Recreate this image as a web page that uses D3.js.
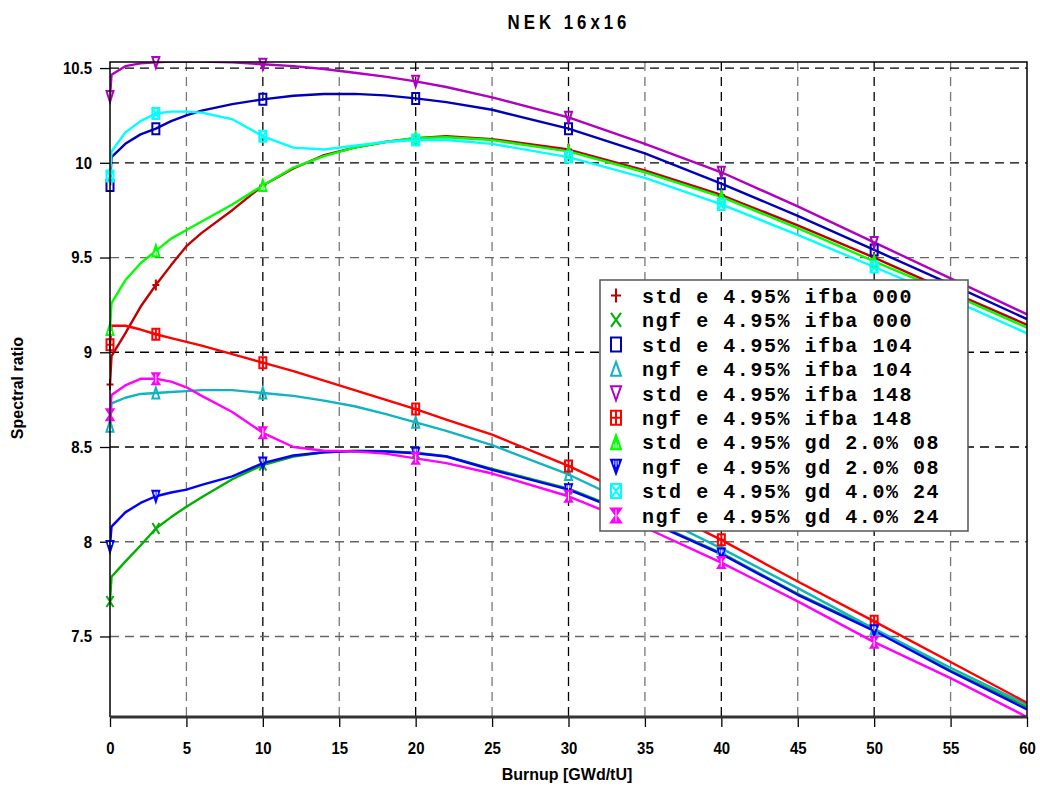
<!DOCTYPE html>
<html>
<head>
<meta charset="utf-8">
<script src="https://cdn.jsdelivr.net/npm/d3@7"></script>
<style>
  body { margin: 0; background: #fff; }
  svg { display: block; }
  .narrow { font-family: "Liberation Sans Narrow", "Arial Narrow", "Liberation Sans", sans-serif; font-weight: bold; }
</style>
</head>
<body>
<svg width="1040" height="788"></svg>
<script>
// burnup steps and the points that carry a marker
const burnup = [0, 0.1, 1, 2, 3, 4, 5, 6, 8, 10, 12, 14, 16, 18, 20, 22, 25, 30, 35, 40, 45, 50, 55, 60];
const markerBurnup = [0, 3, 10, 20, 30, 40, 50];
const xTicks = [0, 5, 10, 15, 20, 25, 30, 35, 40, 45, 50, 55, 60];
const yTicks = [7.5, 8, 8.5, 9, 9.5, 10, 10.5];

// spectral ratio per case
const stdIfba000 = [8.83, 8.98, 9.10, 9.24, 9.355, 9.46, 9.56, 9.63, 9.75, 9.88, 9.97, 10.04, 10.08, 10.11, 10.13, 10.14, 10.125, 10.07, 9.96, 9.83, 9.67, 9.50, 9.32, 9.145];
const ngfIfba000 = [7.685, 7.815, 7.895, 7.98, 8.07, 8.13, 8.185, 8.235, 8.33, 8.405, 8.45, 8.472, 8.48, 8.478, 8.47, 8.452, 8.385, 8.28, 8.12, 7.94, 7.725, 7.535, 7.32, 7.128];
const stdIfba104 = [9.88, 10.03, 10.10, 10.15, 10.18, 10.22, 10.25, 10.275, 10.31, 10.335, 10.354, 10.363, 10.364, 10.356, 10.34, 10.32, 10.28, 10.18, 10.05, 9.89, 9.72, 9.54, 9.36, 9.175];
const ngfIfba104 = [8.61, 8.73, 8.76, 8.78, 8.785, 8.79, 8.795, 8.80, 8.80, 8.785, 8.77, 8.745, 8.715, 8.675, 8.63, 8.585, 8.51, 8.355, 8.165, 7.965, 7.755, 7.54, 7.335, 7.14];
const stdIfba148 = [10.35, 10.465, 10.51, 10.525, 10.53, 10.535, 10.535, 10.535, 10.53, 10.52, 10.51, 10.495, 10.475, 10.455, 10.43, 10.40, 10.345, 10.24, 10.10, 9.95, 9.77, 9.58, 9.39, 9.20];
const ngfIfba148 = [9.04, 9.14, 9.14, 9.12, 9.095, 9.075, 9.055, 9.035, 8.99, 8.945, 8.90, 8.85, 8.80, 8.75, 8.70, 8.645, 8.565, 8.40, 8.21, 8.01, 7.79, 7.58, 7.365, 7.15];
const stdGd08 = [9.12, 9.26, 9.38, 9.47, 9.535, 9.60, 9.645, 9.69, 9.78, 9.88, 9.975, 10.035, 10.08, 10.11, 10.13, 10.135, 10.12, 10.06, 9.95, 9.82, 9.655, 9.48, 9.31, 9.13];
const ngfGd08 = [7.975, 8.08, 8.155, 8.205, 8.24, 8.26, 8.275, 8.30, 8.345, 8.415, 8.455, 8.472, 8.478, 8.476, 8.467, 8.45, 8.38, 8.275, 8.115, 7.935, 7.72, 7.53, 7.315, 7.115];
const stdGd24 = [9.93, 10.06, 10.16, 10.22, 10.26, 10.27, 10.27, 10.265, 10.23, 10.14, 10.08, 10.07, 10.09, 10.11, 10.12, 10.12, 10.10, 10.03, 9.92, 9.78, 9.62, 9.45, 9.28, 9.10];
const ngfGd24 = [8.67, 8.775, 8.825, 8.86, 8.86, 8.845, 8.815, 8.77, 8.685, 8.575, 8.50, 8.48, 8.477, 8.465, 8.44, 8.415, 8.36, 8.24, 8.075, 7.89, 7.685, 7.47, 7.28, 7.075];

const seriesNames = ["std e 4.95% ifba 000", "ngf e 4.95% ifba 000", "std e 4.95% ifba 104", "ngf e 4.95% ifba 104",
  "std e 4.95% ifba 148", "ngf e 4.95% ifba 148", "std e 4.95% gd 2.0% 08", "ngf e 4.95% gd 2.0% 08",
  "std e 4.95% gd 4.0% 24", "ngf e 4.95% gd 4.0% 24"];
const seriesValues = [stdIfba000, ngfIfba000, stdIfba104, ngfIfba104, stdIfba148, ngfIfba148, stdGd08, ngfGd08, stdGd24, ngfGd24];
const seriesColors = ["#c00000", "#00b000", "#0000b8", "#10b4c0", "#b000c0", "#ff0000", "#00ff00", "#0000ff", "#00ffff", "#ff00ff"];
const seriesMarkers = ["plus", "x", "rect", "triUp", "triDown", "rectCross", "triUpFill", "triDownFill", "rectX", "hourglass"];

const svg = d3.select("svg");
const plotLeft = 110, plotRight = 1027, plotTop = 62, plotBottom = 717;

const x = d3.scaleLinear().domain([0, 60]).range([plotLeft, plotRight]);
const y = d3.scaleLinear().domain([7.075, 10.532]).range([plotBottom, plotTop]);

// title (squeezed a bit to look like a narrow face)
svg.append("text").attr("class", "narrow")
  .attr("transform", "translate(569,29) scale(0.8,1)")
  .attr("text-anchor", "middle")
  .style("font-size", "21px").style("letter-spacing", "5px")
  .text("NEK 16x16");

// grid
const grid = svg.append("g");
xTicks.filter(d => d > 0 && d < 60).forEach(d => {
  grid.append("line")
    .attr("x1", x(d)).attr("x2", x(d)).attr("y1", plotTop).attr("y2", plotBottom)
    .attr("stroke", d % 10 === 0 ? "#000" : "#777")
    .attr("stroke-width", 1.3)
    .attr("stroke-dasharray", "9,6");
});
yTicks.forEach(d => {
  grid.append("line")
    .attr("x1", plotLeft).attr("x2", plotRight).attr("y1", y(d)).attr("y2", y(d))
    .attr("stroke", [9.5, 8, 7.5].includes(d) ? "#666" : "#000")
    .attr("stroke-width", 1.3)
    .attr("stroke-dasharray", "9,6");
});

// axes
const xAxis = d3.axisBottom(x).tickValues(xTicks).tickSize(10).tickPadding(15).tickFormat(d3.format("d"));
const yAxis = d3.axisLeft(y).tickValues(yTicks).tickSize(10).tickPadding(8).tickFormat(d => String(d));
const gx = svg.append("g").attr("transform", `translate(0,${plotBottom})`).call(xAxis);
const gy = svg.append("g").attr("transform", `translate(${plotLeft},0)`).call(yAxis);
[gx, gy].forEach(g => {
  g.select(".domain").remove();
  g.selectAll(".tick line").attr("stroke", "#000").attr("stroke-width", 1.3);
  g.selectAll("text").attr("class", "narrow").attr("fill", "#000").style("font-size", "17px");
});
gx.selectAll("text").attr("transform", "scale(0.88,1)");
gy.selectAll("text").attr("x", 0).attr("transform", "translate(-18,0) scale(0.88,1)");

// clipped plot area
svg.append("clipPath").attr("id", "plotClip")
  .append("rect").attr("x", plotLeft).attr("y", plotTop).attr("width", plotRight - plotLeft).attr("height", plotBottom - plotTop);

const line = d3.line().x((d, i) => x(burnup[i])).y(d => y(d));

const plot = svg.append("g").attr("clip-path", "url(#plotClip)");
seriesValues.forEach((vals, k) => {
  plot.append("path")
    .attr("d", line(vals))
    .attr("fill", "none")
    .attr("stroke", seriesColors[k])
    .attr("stroke-width", 2.4)
    .attr("stroke-linejoin", "round");
});

// marker shapes
function drawMarker(g, type, cx, cy, w, h, color) {
  const l = cx - w / 2, r = cx + w / 2, t = cy - h / 2, b = cy + h / 2;
  const sw = 2;
  const p = (d, fill) => g.append("path").attr("d", d)
    .attr("fill", fill ? color : "none")
    .attr("stroke", color).attr("stroke-width", sw).attr("stroke-linejoin", "miter");
  const white = d => g.append("path").attr("d", d).attr("fill", "none").attr("stroke", "#fff").attr("stroke-width", 1);
  if (type === "plus") p(`M${cx},${t}V${b}M${l},${cy}H${r}`);
  if (type === "x") p(`M${l},${t}L${r},${b}M${r},${t}L${l},${b}`);
  if (type === "rect") p(`M${l},${t}H${r}V${b}H${l}Z`);
  if (type === "triUp") p(`M${cx},${t}L${r},${b}H${l}Z`);
  if (type === "triDown") p(`M${l},${t}H${r}L${cx},${b}Z`);
  if (type === "rectCross") p(`M${l},${t}H${r}V${b}H${l}ZM${cx},${t}V${b}M${l},${cy}H${r}`);
  if (type === "rectX") p(`M${l},${t}H${r}V${b}H${l}ZM${l},${t}L${r},${b}M${r},${t}L${l},${b}`);
  if (type === "triUpFill") {
    p(`M${cx},${t}L${r},${b}H${l}Z`, true);
    white(`M${cx},${cy}V${b - 1}M${cx - w * 0.22},${cy + h * 0.15}V${b - 1}M${cx + w * 0.22},${cy + h * 0.15}V${b - 1}`);
  }
  if (type === "triDownFill") {
    p(`M${l},${t}H${r}L${cx},${b}Z`, true);
    white(`M${cx},${t + 1}V${cy}M${cx - w * 0.22},${t + 1}V${cy - h * 0.15}M${cx + w * 0.22},${t + 1}V${cy - h * 0.15}`);
  }
  if (type === "hourglass") {
    p(`M${l},${t}H${r}L${l},${b}H${r}Z`, true);
    white(`M${cx},${t + 1}V${b - 1}`);
  }
}

const markers = svg.append("g");
seriesValues.forEach((vals, k) => {
  markerBurnup.forEach(bu => {
    const i = burnup.indexOf(bu);
    drawMarker(markers, seriesMarkers[k], x(bu), y(vals[i]), 7, 11, seriesColors[k]);
  });
});

// frame
svg.append("path").attr("d", `M${plotLeft},${plotBottom}V${plotTop}H${plotRight}V${plotBottom}`)
  .attr("fill", "none").attr("stroke", "#000").attr("stroke-width", 1.5);
svg.append("line").attr("x1", plotLeft).attr("x2", plotRight).attr("y1", plotBottom).attr("y2", plotBottom)
  .attr("stroke", "#333").attr("stroke-width", 3);

// axis titles
svg.append("text").attr("class", "narrow")
  .attr("x", 567).attr("y", 780).attr("text-anchor", "middle")
  .style("font-size", "16px").text("Burnup [GWd/tU]");
svg.append("text").attr("class", "narrow")
  .attr("transform", "translate(23,388) rotate(-90)").attr("text-anchor", "middle")
  .style("font-size", "16px").text("Spectral ratio");

// legend
const lg = svg.append("g");
lg.append("rect").attr("x", 600).attr("y", 280).attr("width", 368).attr("height", 251)
  .attr("fill", "#fff").attr("stroke", "#555").attr("stroke-width", 1.5);
seriesNames.forEach((name, k) => {
  const cy = 295.5 + k * 24.45;
  drawMarker(lg, seriesMarkers[k], 616, cy, 10, 14, seriesColors[k]);
  lg.append("text")
    .attr("x", 642).attr("y", cy).attr("dy", "0.36em")
    .style("font-family", "'Liberation Mono', 'DejaVu Sans Mono', monospace")
    .style("font-weight", "bold").style("font-size", "20px").style("letter-spacing", "1.55px")
    .attr("fill", "#000")
    .text(name);
});
</script>
</body>
</html>
